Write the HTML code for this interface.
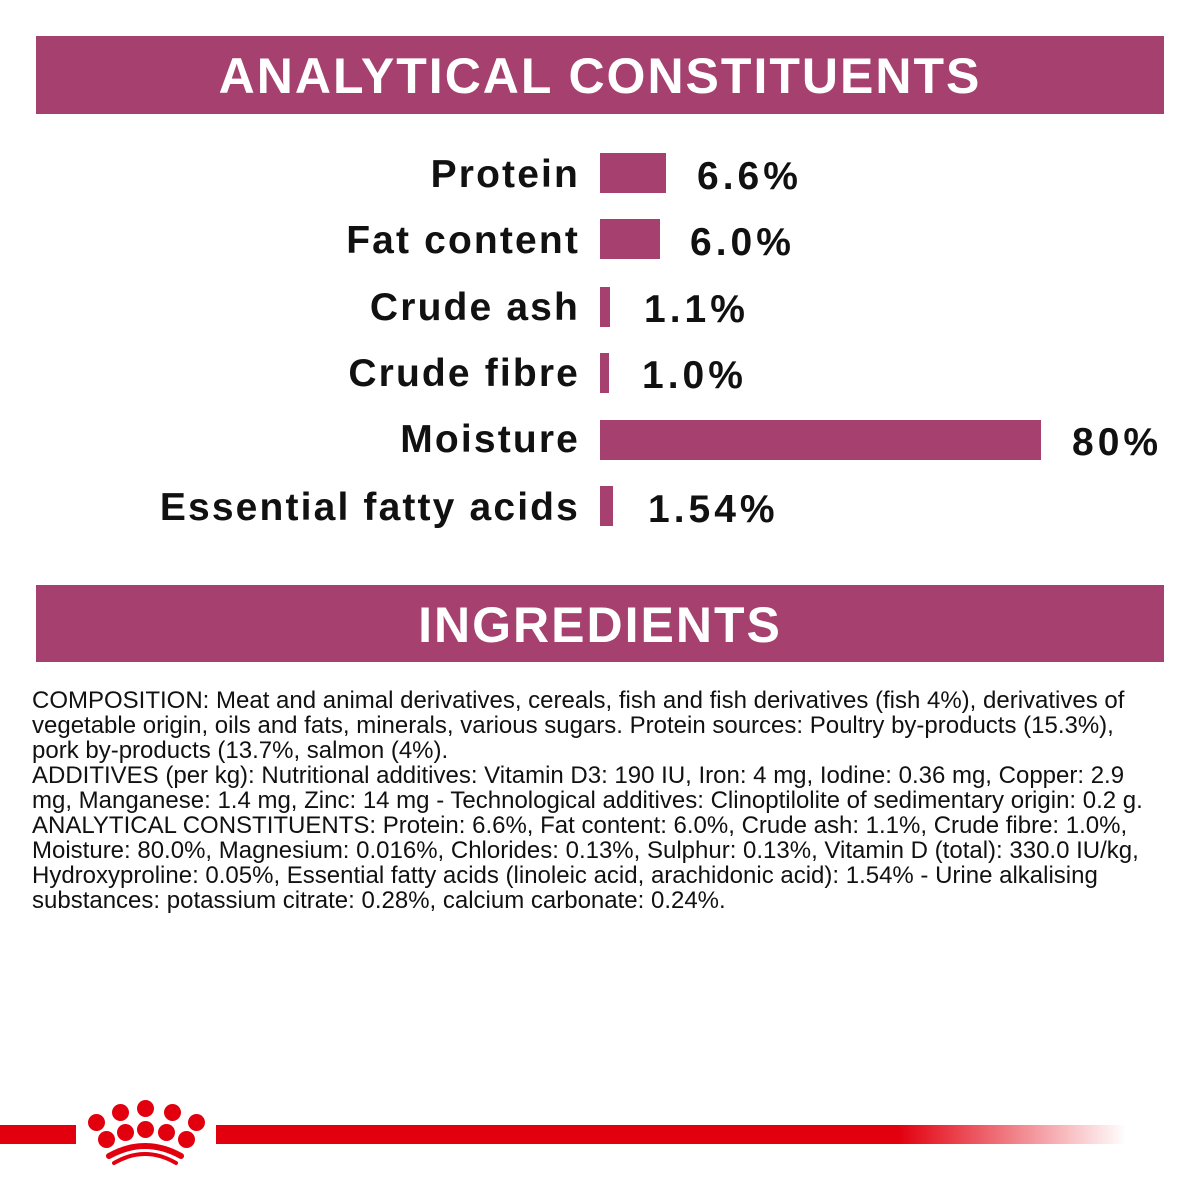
<!DOCTYPE html>
<html><head><style>
body{margin:0;width:1200px;height:1200px;background:#fff;position:relative;overflow:hidden;font-family:"Liberation Sans",sans-serif}
.hdr{position:absolute;left:36px;width:1128px;height:78px;background:#a6406f;color:#fff;font-weight:bold;font-size:50px;text-align:center;line-height:80px;letter-spacing:2px}
.lab{position:absolute;right:620px;font-weight:bold;font-size:39px;color:#111;line-height:40px;letter-spacing:2.15px}
.val{position:absolute;font-weight:bold;font-size:39px;color:#111;line-height:40px;letter-spacing:4px}
.bar{position:absolute;left:600px;height:40px;background:#a6406f}
.ln{position:absolute;left:32px;font-size:24px;color:#111;white-space:nowrap;line-height:25px}
.dot{position:absolute;width:17px;height:17px;border-radius:50%;background:#e2000f}
</style></head><body>
<div class="hdr" style="top:36px">ANALYTICAL CONSTITUENTS</div>
<div class="lab" style="top:155px">Protein</div><div class="bar" style="top:153px;width:66px"></div><div class="val" style="left:697px;top:157px">6.6%</div>
<div class="lab" style="top:221px">Fat content</div><div class="bar" style="top:219px;width:60px"></div><div class="val" style="left:690px;top:223px">6.0%</div>
<div class="lab" style="top:288px">Crude ash</div><div class="bar" style="top:287px;width:10px"></div><div class="val" style="left:644px;top:290px">1.1%</div>
<div class="lab" style="top:354px">Crude fibre</div><div class="bar" style="top:353px;width:9px"></div><div class="val" style="left:642px;top:356px">1.0%</div>
<div class="lab" style="top:420px">Moisture</div><div class="bar" style="top:420px;width:441px"></div><div class="val" style="left:1072px;top:423px">80%</div>
<div class="lab" style="top:488px">Essential fatty acids</div><div class="bar" style="top:486px;width:13px"></div><div class="val" style="left:648px;top:490px">1.54%</div>
<div class="hdr" style="top:585px;height:77px">INGREDIENTS</div>
<div class="ln" style="top:688px">COMPOSITION: Meat and animal derivatives, cereals, fish and fish derivatives (fish 4%), derivatives of</div>
<div class="ln" style="top:713px">vegetable origin, oils and fats, minerals, various sugars. Protein sources: Poultry by-products (15.3%),</div>
<div class="ln" style="top:738px">pork by-products (13.7%, salmon (4%).</div>
<div class="ln" style="top:763px">ADDITIVES (per kg): Nutritional additives: Vitamin D3: 190 IU, Iron: 4 mg, Iodine: 0.36 mg, Copper: 2.9</div>
<div class="ln" style="top:788px">mg, Manganese: 1.4 mg, Zinc: 14 mg - Technological additives: Clinoptilolite of sedimentary origin: 0.2 g.</div>
<div class="ln" style="top:813px">ANALYTICAL CONSTITUENTS: Protein: 6.6%, Fat content: 6.0%, Crude ash: 1.1%, Crude fibre: 1.0%,</div>
<div class="ln" style="top:838px">Moisture: 80.0%, Magnesium: 0.016%, Chlorides: 0.13%, Sulphur: 0.13%, Vitamin D (total): 330.0 IU/kg,</div>
<div class="ln" style="top:863px">Hydroxyproline: 0.05%, Essential fatty acids (linoleic acid, arachidonic acid): 1.54% - Urine alkalising</div>
<div class="ln" style="top:888px">substances: potassium citrate: 0.28%, calcium carbonate: 0.24%.</div>
<div style="position:absolute;left:0;top:1125px;width:76px;height:19px;background:#e2000f"></div>
<div style="position:absolute;left:216px;top:1125px;width:910px;height:19px;background:linear-gradient(to right,#e2000f 0%,#e2000f 75%,rgba(226,0,15,0) 100%)"></div>
<div class="dot" style="left:88px;top:1114px"></div>
<div class="dot" style="left:112px;top:1104px"></div>
<div class="dot" style="left:137px;top:1100px"></div>
<div class="dot" style="left:164px;top:1104px"></div>
<div class="dot" style="left:188px;top:1114px"></div>
<div class="dot" style="left:98px;top:1131px"></div>
<div class="dot" style="left:117px;top:1124px"></div>
<div class="dot" style="left:137px;top:1121px"></div>
<div class="dot" style="left:158px;top:1124px"></div>
<div class="dot" style="left:178px;top:1131px"></div>
<svg style="position:absolute;left:100px;top:1140px" width="90" height="30"><path d="M9,16 Q45,-4 81,16" stroke="#e2000f" stroke-width="6" fill="none" stroke-linecap="round"/><path d="M14,23 Q45,5 76,23" stroke="#e2000f" stroke-width="4" fill="none" stroke-linecap="round"/></svg>
</body></html>
